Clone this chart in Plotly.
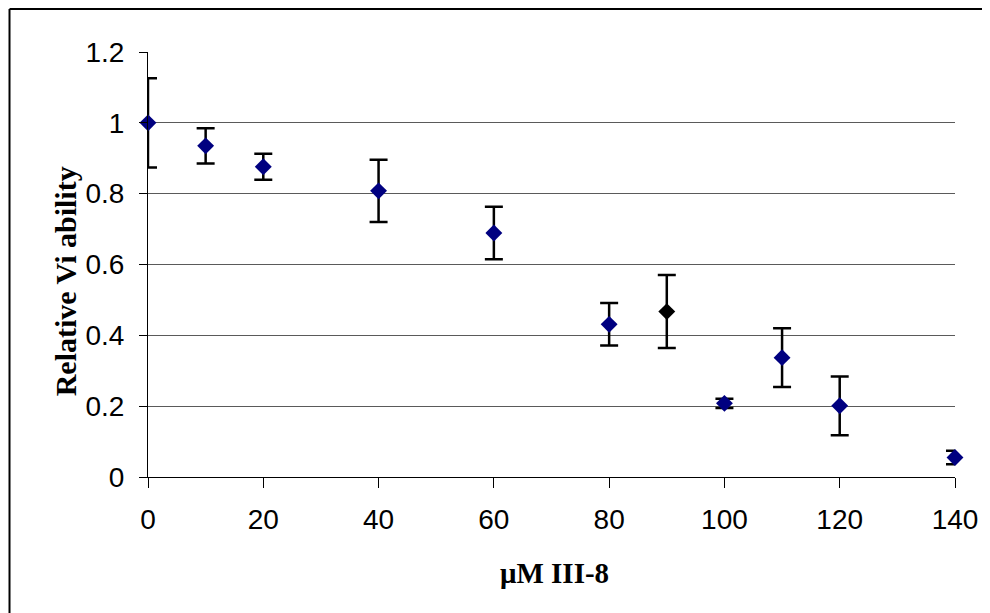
import plotly.graph_objects as go

# Data
concentration = [0, 10, 20, 40, 60, 80, 90, 100, 110, 120, 140]
viability = [1.0, 0.935, 0.876, 0.808, 0.689, 0.431, 0.467, 0.208, 0.337, 0.201, 0.055]
error = [0.126, 0.05, 0.037, 0.088, 0.074, 0.06, 0.103, 0.013, 0.083, 0.083, 0.019]
marker_colors = ["#000080"] * 6 + ["#000000"] + ["#000080"] * 4

y_ticks = [0, 0.2, 0.4, 0.6, 0.8, 1.0, 1.2]
y_tick_labels = ["0", "0.2", "0.4", "0.6", "0.8", "1", "1.2"]
x_ticks = [0, 20, 40, 60, 80, 100, 120, 140]

# The page body has an 8px default margin; figure is sized/offset to compensate
W, H = 982, 605
L, R, T, B = 140, 32, 44, 136
PW, PH = W - L - R, H - T - B


def px(xf):
    return (xf - L) / PW


def py(yf):
    return (H - B - yf) / PH


fig = go.Figure()
fig.add_trace(go.Scatter(
    x=concentration, y=viability, mode="markers",
    marker=dict(symbol="diamond", size=13, color=marker_colors, line=dict(width=0)),
    error_y=dict(type="data", array=error, visible=True, color="black", thickness=2.5, width=9),
    showlegend=False, cliponaxis=False,
))

fig.update_layout(
    width=W, height=H,
    margin=dict(l=L, r=R, t=T, b=B),
    paper_bgcolor="white", plot_bgcolor="white",
    font=dict(family="Liberation Sans, Arial", size=28, color="black"),
    xaxis=dict(range=[0, 140], tickvals=x_ticks, showgrid=False, zeroline=False,
               showline=True, linecolor="black", linewidth=1,
               ticks="outside", ticklen=10, tickcolor="black", tickwidth=1,
               tickfont=dict(size=28), ticklabelstandoff=7),
    yaxis=dict(range=[0, 1.2], tickvals=y_ticks, ticktext=y_tick_labels,
               showgrid=True, gridcolor="#5a5a5a", gridwidth=1, zeroline=False,
               showline=True, linecolor="black", linewidth=1,
               ticks="outside", ticklen=8, tickcolor="black", tickwidth=1,
               tickfont=dict(size=28), ticklabelstandoff=9),
)

fig.add_annotation(text="<b>μM III-8</b>", xref="paper", yref="paper",
                   x=px(548), y=py(565), showarrow=False,
                   xanchor="center", yanchor="middle",
                   font=dict(family="Liberation Serif, Times New Roman", size=29, color="black"))
fig.add_annotation(text="<b>Relative Vi ability</b>", xref="paper", yref="paper",
                   x=px(57), y=py(273), textangle=-90, showarrow=False,
                   xanchor="center", yanchor="middle",
                   font=dict(family="Liberation Serif, Times New Roman", size=30, color="black"))

# Outer chart frame (top and left edges)
fig.add_shape(type="line", xref="paper", yref="paper",
              x0=px(1), x1=px(W + 5), y0=py(1), y1=py(1),
              line=dict(color="black", width=2))
fig.add_shape(type="line", xref="paper", yref="paper",
              x0=px(1), x1=px(1), y0=py(1), y1=py(H + 5),
              line=dict(color="black", width=2))

fig.write_html("out.html")
